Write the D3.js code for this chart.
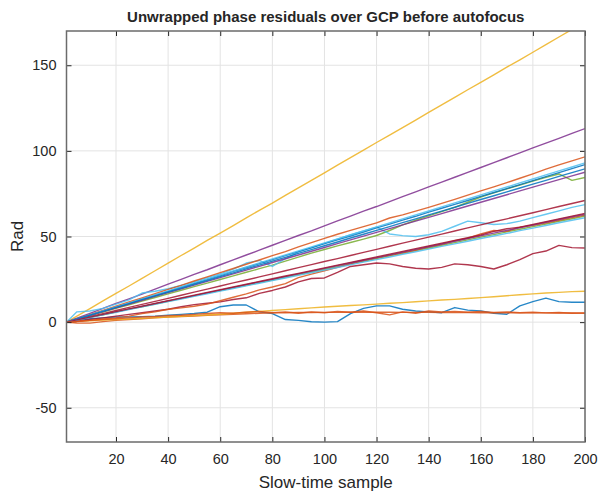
<!DOCTYPE html>
<html>
<head>
<meta charset="utf-8">
<script src="https://cdn.jsdelivr.net/npm/d3@7"></script>
<style>
  body { margin: 0; background: #fff; }
  text { font-family: "Liberation Sans", Arial, sans-serif; fill: #262626; }
</style>
</head>
<body>
<div id="chart"></div>
<script>
// slow-time sample index shared by all series
const samples = [1,5,10,15,20,25,30,35,40,45,50,55,60,65,70,75,80,85,90,95,100,
  105,110,115,120,125,130,135,140,145,150,155,160,165,170,175,180,185,190,195,200];

const gcpYellowSteep = [0,3.5,7.9,12.4,16.8,21.1,25.6,30.0,34.4,38.9,43.2,47.7,52.0,56.4,60.9,65.3,69.5,74.0,78.4,82.8,87.2,91.7,96.0,100.4,104.9,109.2,113.6,118.0,122.5,126.8,131.2,135.7,140.0,144.4,148.9,153.2,157.6,162.0,166.5,170.9,175.2];
const gcpPurpleTop = [0,2.3,5.1,8.0,10.9,13.6,16.4,19.3,22.2,25.0,27.9,30.6,33.5,36.4,39.2,42.0,44.9,47.7,50.6,53.3,56.2,59.1,61.9,64.8,67.5,70.4,73.3,76.1,79.0,81.8,84.6,87.5,90.3,93.1,96.0,98.8,101.7,104.5,107.3,110.2,113.0];
const gcpOrangeUpper = [0,1.9,4.4,6.8,9.3,11.8,14.2,16.6,19.1,21.5,24.0,26.4,28.9,31.3,33.8,36.3,38.8,41.2,43.9,46.4,48.9,51.3,53.6,55.8,58.0,60.8,62.6,64.8,67.0,69.3,71.7,74.2,76.6,79.0,81.5,84.0,86.6,89.3,91.8,94.2,96.5];
const gcpCyanUpper = [0,1.9,4.2,6.5,8.9,11.2,13.5,15.9,18.2,20.5,22.9,25.2,27.5,29.9,32.2,34.6,36.9,39.2,41.6,43.9,46.3,48.6,50.9,53.3,55.6,57.9,60.3,62.6,64.9,67.3,69.6,71.9,74.3,76.6,78.9,81.3,83.6,86.0,88.3,90.6,93.0];
const gcpBlueA = [0,1.8,4.1,6.5,8.8,11.0,13.5,15.7,18.0,20.4,22.6,25.0,27.2,29.6,31.9,34.2,36.5,38.8,41.2,43.4,45.8,48.0,50.3,52.6,55.0,57.2,59.6,61.8,64.2,66.5,68.8,71.0,73.4,75.7,78.0,80.3,82.6,85.0,87.3,89.6,92.0];
const gcpBlueB = [0,1.8,4.1,6.3,8.6,10.8,13.1,15.3,17.6,19.8,22.1,24.3,26.6,28.8,31.1,33.3,35.6,37.8,40.1,42.3,44.6,46.8,49.1,51.3,53.6,55.8,58.1,60.3,62.6,64.8,67.1,69.3,71.6,73.8,76.1,78.3,80.6,82.8,85.1,87.3,89.5];
const gcpPurpleUpper = [0,1.8,4.0,6.2,8.4,10.6,12.8,15.0,17.2,19.4,21.6,23.8,26.0,28.2,30.4,32.6,34.8,37.0,39.2,41.4,43.6,45.8,48.0,50.2,52.4,54.6,56.8,59.0,61.2,63.4,65.6,67.8,70.0,72.2,74.4,76.6,78.8,81.0,83.2,85.4,87.5];
const gcpGreenUpper = [0,1.7,3.8,5.9,8.0,10.1,12.3,14.4,16.5,18.6,20.7,22.8,24.9,27.0,29.1,31.2,33.3,35.6,38.0,40.3,42.4,44.5,46.5,48.5,50.6,53.5,56.8,59.5,62.0,64.5,67.0,70.0,73.0,75.5,77.8,80.0,82.3,84.5,86.5,82.8,84.5];
const gcpMaroonMid = [0,1.4,3.2,5.0,6.8,8.6,10.4,12.1,13.9,15.7,17.5,19.3,21.1,22.9,24.6,26.4,28.2,30.0,31.8,33.6,35.4,37.1,38.9,40.7,42.5,44.3,46.1,47.9,49.6,51.4,53.2,55.0,56.8,58.6,60.3,62.1,63.9,65.7,67.5,69.3,71.0];
const gcpLightBlue = [0,6.0,6.5,8.0,10.5,13.0,17.0,18.0,19.5,21.5,23.5,26.0,28.2,31.0,34.5,36.0,32.5,37.0,41.0,43.5,46.0,48.5,51.0,53.2,55.5,51.5,50.5,50.0,51.0,53.0,56.0,59.0,58.0,57.0,57.5,59.0,61.0,63.0,65.0,67.0,68.6];
const gcpOrangeWavy = [0,0.5,1.0,1.8,2.5,3.5,5.0,6.0,7.5,8.3,9.3,10.5,12.5,14.5,16.5,18.8,20.5,22.5,26.0,28.0,30.0,32.0,34.0,36.0,37.5,39.0,40.5,42.0,44.0,45.5,47.5,49.0,51.5,53.5,53.0,55.5,56.5,58.0,59.5,61.0,62.5];
const gcpPurpleMid = [0,1.3,2.9,4.4,6.0,7.6,9.2,10.8,12.4,13.9,15.5,17.1,18.7,20.3,21.9,23.5,25.0,26.6,28.2,29.8,31.4,33.0,34.5,36.1,37.7,39.3,40.9,42.5,44.0,45.6,47.2,48.8,50.4,52.0,53.6,55.1,56.7,58.3,59.9,61.5,63.0];
const gcpGreenMid = [0,1.2,2.8,4.3,5.9,7.6,9.0,10.6,12.2,13.7,15.3,16.9,18.4,20.0,21.5,23.1,24.6,26.2,27.8,29.3,30.9,32.4,34.0,35.5,37.1,38.7,40.2,41.8,43.3,44.9,46.4,48.0,49.6,51.1,52.7,54.2,55.8,57.3,58.9,60.4,62.0];
const gcpMaroonLow = [0,1.3,2.9,4.5,6.1,7.7,9.3,10.9,12.5,14.1,15.7,17.3,18.9,20.5,22.1,23.7,25.3,26.9,28.5,30.1,31.7,33.3,34.9,36.5,38.1,39.7,41.3,42.9,44.5,46.1,47.7,49.3,50.9,53.0,54.5,55.5,57.1,58.7,60.3,61.9,63.5];
const gcpTealMid = [0,1.2,2.8,4.3,5.8,7.4,8.9,10.4,12.0,13.5,15.0,16.6,18.1,19.6,21.2,22.7,24.2,25.8,27.3,28.8,30.4,31.9,33.4,35.0,36.5,38.0,39.6,41.1,42.6,44.2,45.7,47.2,48.8,50.3,51.8,53.4,54.9,56.4,58.0,59.5,61.0];
const gcpCrimson = [0,0.5,1.5,2.5,3.5,4.5,5.5,6.5,7.5,9.0,10.2,11.0,11.8,13.2,14.2,16.8,18.5,20.5,23.5,25.5,25.8,29.0,32.5,33.5,34.5,34.0,32.5,31.5,31.0,32.0,34.0,33.5,32.5,31.0,33.5,36.5,40.0,41.5,44.8,43.5,43.3];
const gcpYellowLow = [0,0.5,0.8,1.2,1.5,1.8,2.2,2.6,3.0,3.4,3.8,4.2,4.6,5.2,5.8,6.3,6.8,7.3,7.8,8.3,8.8,9.3,9.7,10.1,10.5,11.0,11.4,11.9,12.4,12.9,13.3,13.8,14.3,14.8,15.4,16.0,16.5,17.0,17.4,17.8,18.0];
const gcpBlueLow = [0,1.0,2.0,2.5,3.0,3.0,3.2,3.5,4.0,4.5,5.0,5.8,9.0,10.0,10.0,6.0,5.0,1.5,1.0,0.2,0.0,0.3,5.0,8.0,9.5,9.5,7.5,6.5,6.0,5.5,8.5,7.0,6.5,5.2,4.6,9.5,12.0,14.0,12.0,11.6,11.6];
const gcpOrangeFlat = [0,-0.5,-0.6,0.3,1.0,1.5,2.0,2.5,3.0,3.3,3.6,4.0,4.3,4.6,4.9,5.2,5.4,5.5,5.6,5.6,5.7,5.7,5.8,5.8,5.8,5.8,5.7,5.7,5.7,5.6,5.6,5.6,5.5,5.5,5.5,5.4,5.4,5.4,5.3,5.3,5.2];
const gcpOrangeNoisy = [0,0.3,1.0,1.5,2.0,2.5,3.0,3.3,3.8,4.0,4.5,5.0,5.5,5.2,5.8,6.2,5.5,6.0,5.2,6.0,5.5,6.3,5.8,6.5,5.5,4.2,6.0,5.2,6.5,6.0,6.3,5.8,6.2,5.6,6.0,5.5,5.8,5.4,5.6,5.2,5.4];

const allSeries = [gcpBlueLow, gcpOrangeFlat, gcpYellowSteep, gcpPurpleTop, gcpGreenUpper, gcpLightBlue,
  gcpMaroonMid, gcpBlueA, gcpOrangeUpper, gcpYellowLow, gcpPurpleUpper, gcpGreenMid, gcpCyanUpper,
  gcpCrimson, gcpBlueB, gcpOrangeWavy, gcpPurpleMid, gcpTealMid, gcpMaroonLow, gcpOrangeNoisy];
const lineColors = ["#0072BD", "#D95319", "#EDB120", "#7E2F8E", "#77AC30", "#4DBEEE",
  "#A2142F", "#0072BD", "#D95319", "#EDB120", "#7E2F8E", "#77AC30", "#4DBEEE",
  "#A2142F", "#0072BD", "#D95319", "#7E2F8E", "#4DBEEE", "#A2142F", "#D95319"];

const xTicks = [20, 40, 60, 80, 100, 120, 140, 160, 180, 200];
const yTicks = [-50, 0, 50, 100, 150];

const W = 600, H = 494;
const margin = { top: 31, right: 15, bottom: 52, left: 66.5 };
const width = W - margin.left - margin.right;
const height = H - margin.top - margin.bottom;

const svg = d3.select("#chart").append("svg")
  .attr("width", W).attr("height", H);

const g = svg.append("g")
  .attr("transform", `translate(${margin.left},${margin.top})`);

const x = d3.scaleLinear().domain([1, 200]).range([0, width]);
const y = d3.scaleLinear().domain([-70, 170]).range([height, 0]);

// grid
g.append("g").selectAll("line").data(xTicks).join("line")
  .attr("x1", d => x(d)).attr("x2", d => x(d))
  .attr("y1", 0).attr("y2", height)
  .attr("stroke", "#e3e3e3").attr("stroke-width", 1);
g.append("g").selectAll("line").data(yTicks).join("line")
  .attr("x1", 0).attr("x2", width)
  .attr("y1", d => y(d)).attr("y2", d => y(d))
  .attr("stroke", "#e3e3e3").attr("stroke-width", 1);

// lines
svg.append("clipPath").attr("id", "clip")
  .append("rect").attr("width", width).attr("height", height);

const line = d3.line()
  .x((d, i) => x(samples[i]))
  .y(d => y(d));

g.append("g").attr("clip-path", "url(#clip)")
  .selectAll("path").data(allSeries).join("path")
  .attr("d", line)
  .attr("fill", "none")
  .attr("stroke", (d, i) => lineColors[i])
  .attr("stroke-opacity", 0.85)
  .attr("stroke-width", 1.4)
  .attr("stroke-linejoin", "round");

// axes (ticks inward, mirrored on top/right)
const axisColor = "#6b6b6b";
const fmt = d => String(d);
const xAxis = g.append("g").attr("transform", `translate(0,${height})`)
  .call(d3.axisBottom(x).tickValues(xTicks).tickFormat(fmt).tickSizeInner(-5).tickSizeOuter(0).tickPadding(12));
const yAxis = g.append("g")
  .call(d3.axisLeft(y).tickValues(yTicks).tickFormat(fmt).tickSizeInner(-5).tickSizeOuter(0).tickPadding(10));
const xTop = g.append("g")
  .call(d3.axisTop(x).tickValues(xTicks).tickSizeInner(-5).tickSizeOuter(0).tickFormat(""));
const yRight = g.append("g").attr("transform", `translate(${width},0)`)
  .call(d3.axisRight(y).tickValues(yTicks).tickSizeInner(-5).tickSizeOuter(0).tickFormat(""));

[xAxis, yAxis, xTop, yRight].forEach(a => {
  a.select(".domain").remove();
  a.selectAll(".tick line").attr("stroke", "#262626").attr("stroke-width", 1);
  a.selectAll("text").attr("font-size", "14.5px").attr("fill", "#262626")
    .attr("font-family", "'Liberation Sans', Arial, sans-serif");
});

g.append("rect")
  .attr("width", width).attr("height", height)
  .attr("fill", "none").attr("stroke", axisColor).attr("stroke-width", 1.5);

// labels
svg.append("text")
  .attr("x", margin.left + width / 2).attr("y", 22)
  .attr("text-anchor", "middle")
  .attr("font-size", "15px").attr("font-weight", "bold")
  .attr("fill", "#000")
  .text("Unwrapped phase residuals over GCP before autofocus");

svg.append("text")
  .attr("x", margin.left + width / 2).attr("y", 488)
  .attr("text-anchor", "middle")
  .attr("font-size", "17px")
  .text("Slow-time sample");

svg.append("text")
  .attr("transform", `translate(23,${margin.top + y(50)}) rotate(-90)`)
  .attr("text-anchor", "middle")
  .attr("font-size", "17px")
  .text("Rad");
</script>
</body>
</html>
